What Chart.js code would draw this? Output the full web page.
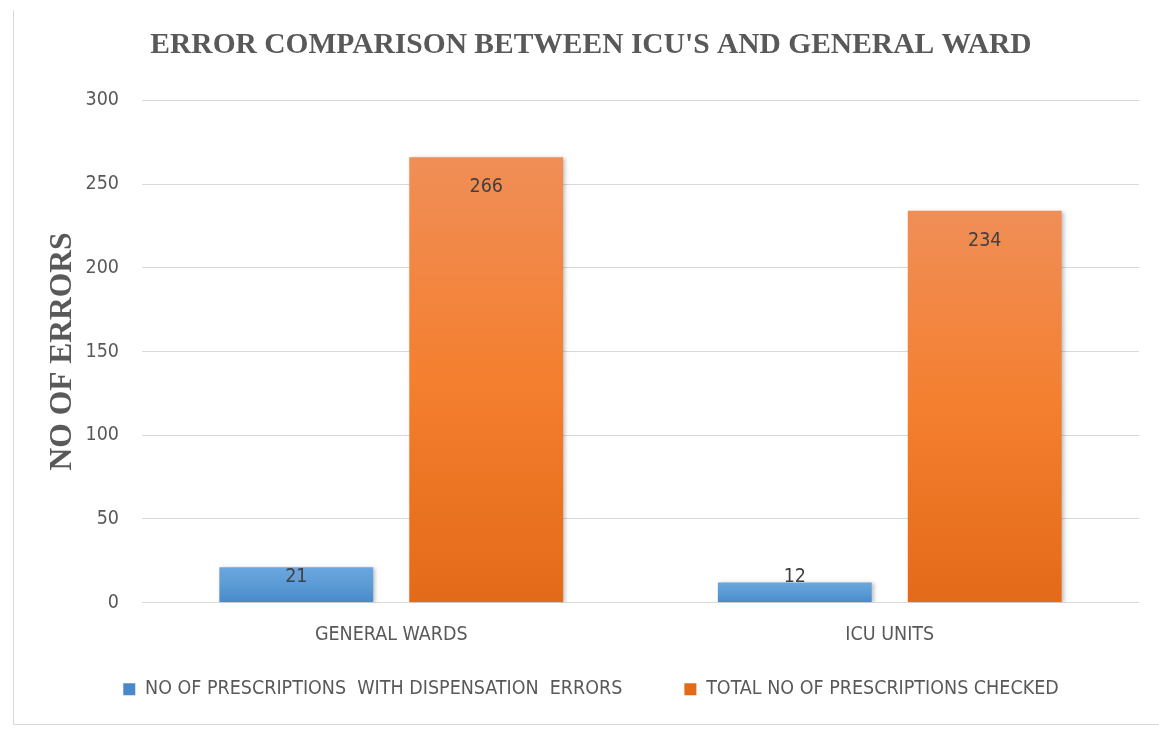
<!DOCTYPE html>
<html>
<head>
<meta charset="utf-8">
<script src="https://cdn.jsdelivr.net/npm/chart.js@4"></script>
<style>
  html, body { margin: 0; padding: 0; background: #fff; }
  #cadre { position: absolute; left: 13px; top: 10px; width: 1200px; height: 714px;
           border-left: 1px solid #d9d9d9; border-bottom: 1px solid #d9d9d9; }
  #zone { position: absolute; left: 0; top: 0; width: 1159px; height: 729px; }
</style>
</head>
<body>
<div id="cadre"></div>
<div id="zone"><canvas id="graphique"></canvas></div>
<script>
/* Comparaison des erreurs : services ICU vs salles générales */

const categories = ['GENERAL WARDS', 'ICU UNITS'];
const serieErreurs = [21, 12];
const serieTotal = [266, 234];
const nomsSeries = ['NO OF PRESCRIPTIONS  WITH DISPENSATION  ERRORS', 'TOTAL NO OF PRESCRIPTIONS CHECKED'];
const ticksY = [0, 50, 100, 150, 200, 250, 300];

const POLICE = "'Liberation Sans Narrow', 'DejaVu Sans Condensed', sans-serif";
const GRIS = '#595959';

// dégradé vertical propre à chaque barre
function degrade(haut, milieu, bas, uni) {
    return function (c) {
        if (c.type !== 'data' || !c.chart.chartArea) return uni;
        const y = c.chart.scales.y;
        const y0 = y.getPixelForValue(c.raw);
        const y1 = y.getPixelForValue(0);
        const g = c.chart.ctx.createLinearGradient(0, y0, 0, y1);
        g.addColorStop(0, haut);
        g.addColorStop(0.5, milieu);
        g.addColorStop(1, bas);
        return g;
    };
}

const ombre = {
    id: 'ombre',
    beforeDatasetsDraw(chart) {
        const ctx = chart.ctx;
        ctx.save();
        ctx.shadowColor = 'rgba(0,0,0,0.25)';
        ctx.shadowBlur = 4;
        ctx.shadowOffsetX = 2;
        ctx.shadowOffsetY = 1;
    },
    afterDatasetsDraw(chart) { chart.ctx.restore(); }
};

const etiquettes = {
    id: 'etiquettes',
    afterDraw(chart) {
        const ctx = chart.ctx;
        ctx.save();
        ctx.font = '19.5px ' + POLICE;
        ctx.fillStyle = '#404040';
        ctx.textAlign = 'center';
        ctx.textBaseline = 'middle';
        chart.data.datasets.forEach((ds, i) => {
            chart.getDatasetMeta(i).data.forEach((barre, j) => {
                const yc = Math.min(barre.y + 30, barre.base - 25);
                ctx.fillText(String(ds.data[j]), barre.x, yc);
            });
        });
        ctx.restore();
    }
};

const ctx = document.getElementById('graphique');

new Chart(ctx.getContext('2d'), {
    type: 'bar',
    data: {
        labels: categories,
        datasets: [{
            label: nomsSeries[0],
            data: serieErreurs,
            backgroundColor: degrade('#6BA6DE', '#5B9BD5', '#4A89C9', '#5B9BD5'),
            borderWidth: 0,
        }, {
            label: nomsSeries[1],
            data: serieTotal,
            backgroundColor: degrade('#F08E57', '#F47F2F', '#E36A18', '#ED7D31'),
            borderWidth: 0,
        }]
    },
    options: {
        responsive: true,
        maintainAspectRatio: false,
        animation: false,
        categoryPercentage: 0.762,
        barPercentage: 0.81,
        layout: { padding: { left: 43, right: 20, top: 0, bottom: 20 } },
        plugins: {
            title: {
                display: true,
                text: "ERROR COMPARISON BETWEEN ICU'S AND GENERAL WARD",
                color: GRIS,
                font: { family: "'Liberation Serif', serif", size: 29.5, weight: 'bold' },
                padding: { top: 28, bottom: 37 }
            },
            legend: {
                position: 'bottom',
                labels: {
                    boxWidth: 12,
                    boxHeight: 12,
                    padding: 62,
                    color: GRIS,
                    font: { family: POLICE, size: 19.5 }
                }
            },
            tooltip: { enabled: false }
        },
        scales: {
            y: {
                min: 0,
                max: 300,
                afterBuildTicks: s => { s.ticks = ticksY.map(v => ({ value: v })); },
                afterFit: s => { s.width = 99; },
                grid: { color: '#d9d9d9', drawTicks: false },
                border: { display: false },
                ticks: { padding: 23, color: GRIS, font: { family: POLICE, size: 19.5 } },
                title: {
                    display: true,
                    text: 'NO OF ERRORS',
                    color: GRIS,
                    font: { family: "'Liberation Serif', serif", size: 31.5, weight: 'bold' },
                    padding: { top: 1, bottom: 0 }
                }
            },
            x: {
                // hauteur fixe : les libellés (mirror, donc non rognés) passent sous l'axe
                afterFit: s => { s.height = 15; },
                grid: { display: false, drawTicks: false },
                border: { display: false },
                ticks: { mirror: true, padding: -44, color: GRIS, font: { family: POLICE, size: 19.5 } }
            }
        }
    },
    plugins: [ombre, etiquettes]
});
</script>
</body>
</html>
